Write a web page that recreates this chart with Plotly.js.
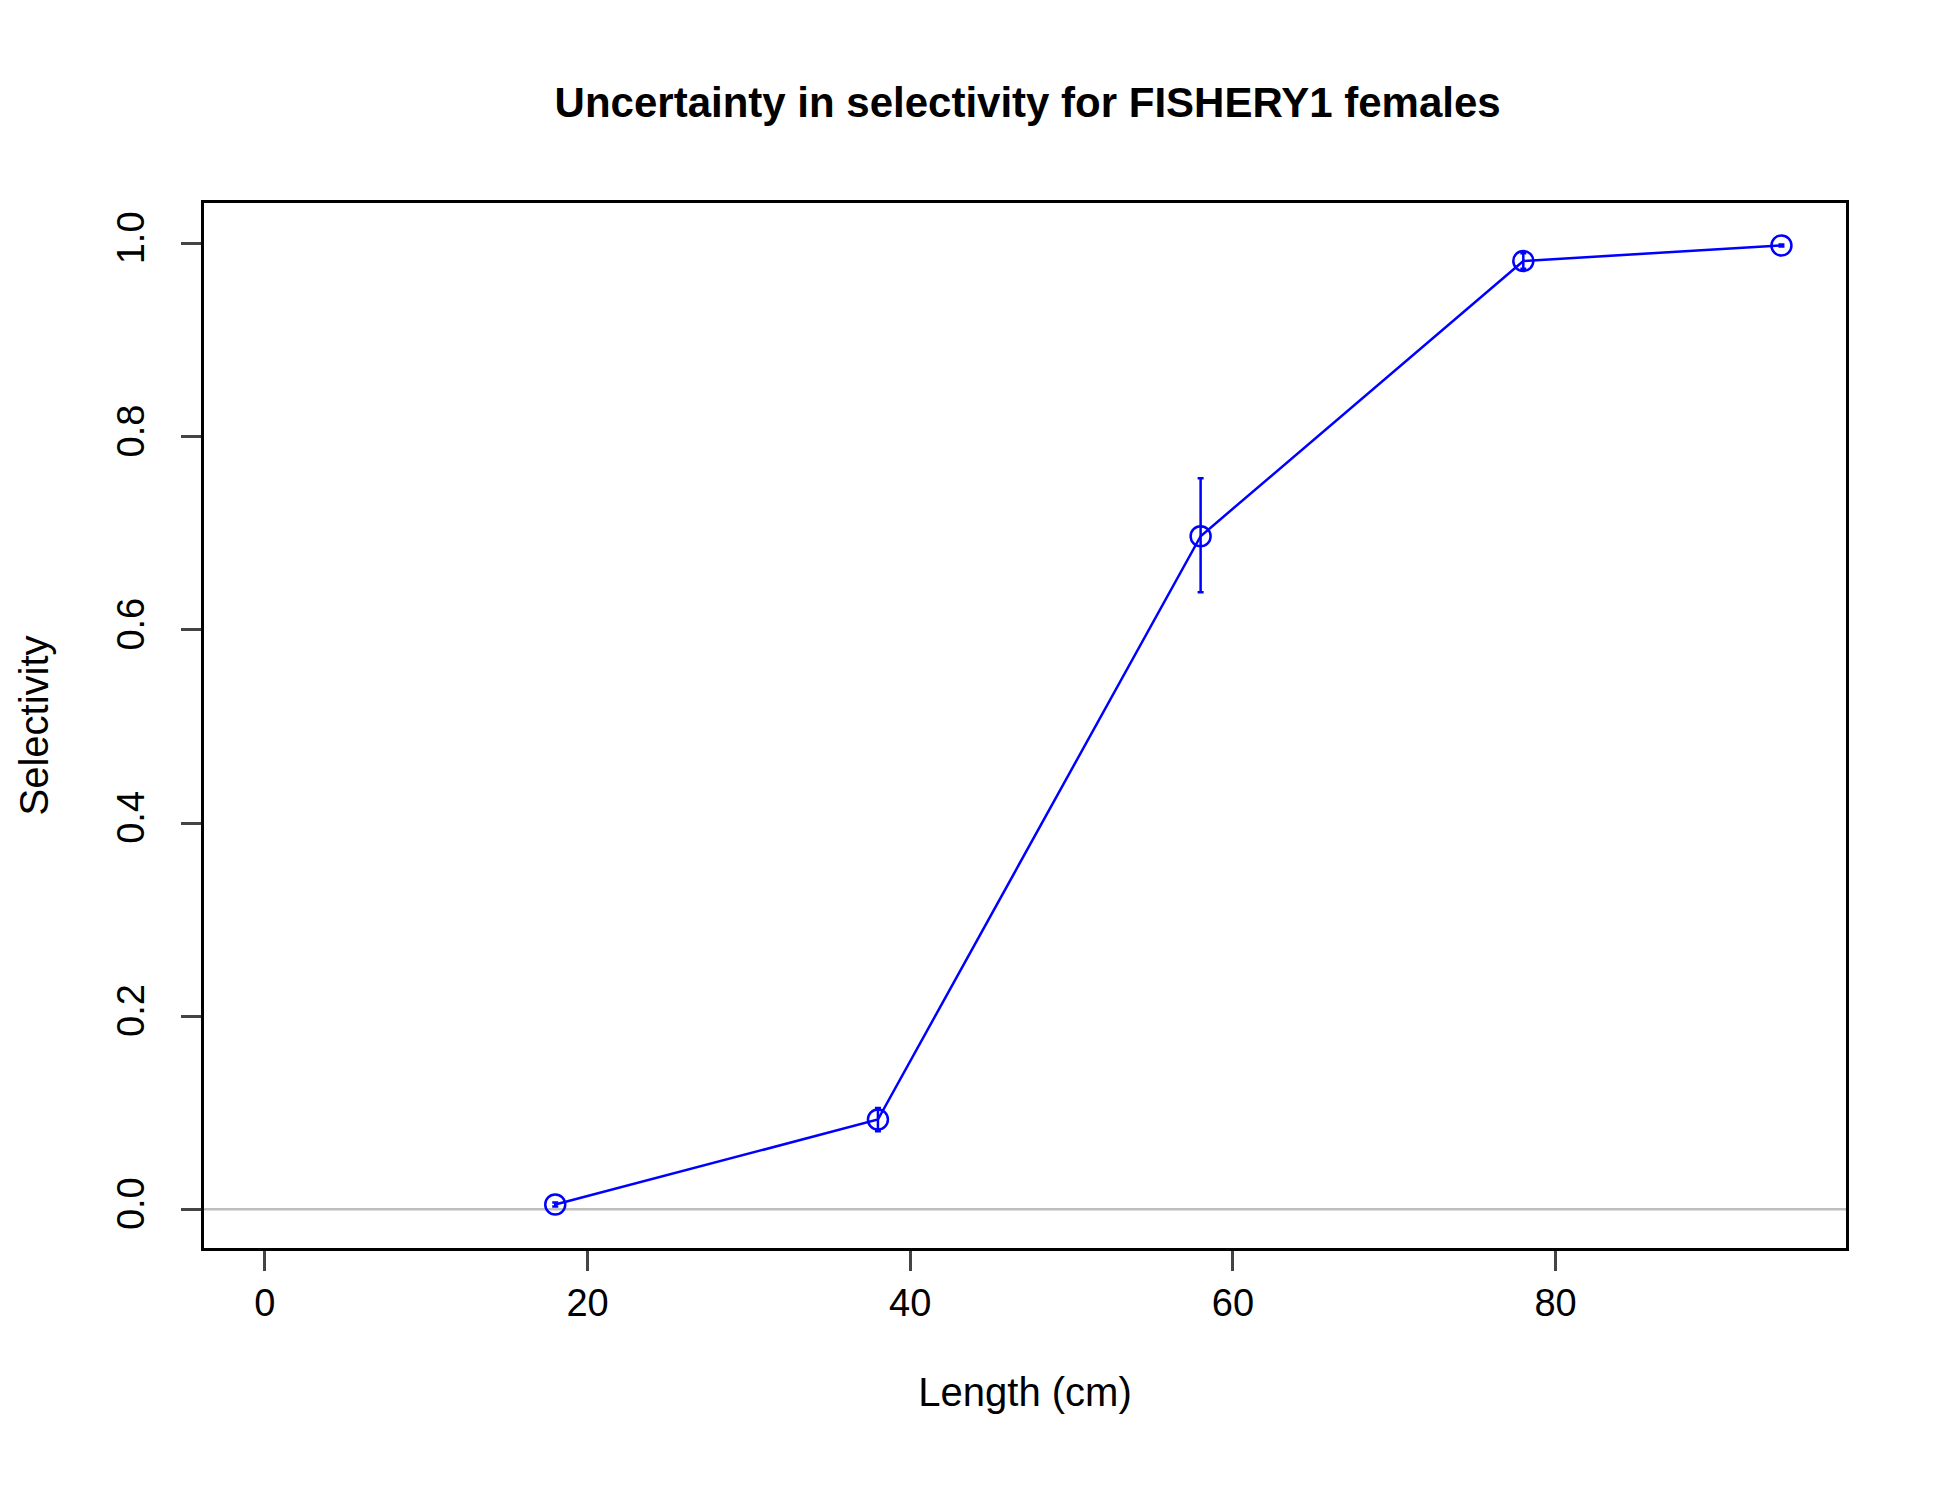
<!DOCTYPE html>
<html>
<head>
<script src="https://cdn.plot.ly/plotly-3.0.1.min.js"></script>
<style>body{margin:0;background:#fff}</style>
</head>
<body>
<div id="chart" style="width:1950px;height:1500px"></div>
<script>
const lengths = [18, 38, 58, 78, 94];
const selectivity = [0.005, 0.093, 0.697, 0.982, 0.998];
const errUpper = [0.002, 0.012, 0.060, 0.008, 0.001];
const errLower = [0.002, 0.012, 0.058, 0.008, 0.001];
const xTicks = [0, 20, 40, 60, 80];
const yTicks = [0, 0.2, 0.4, 0.6, 0.8, 1.0];

const font = 'Liberation Sans, Arial, sans-serif';

const data = [{
  type: 'scatter',
  mode: 'lines+markers',
  x: lengths,
  y: selectivity,
  line: { color: 'blue', width: 2.5 },
  marker: { symbol: 'circle-open', size: 20, color: 'blue', line: { width: 2.5 } },
  error_y: { type: 'data', symmetric: false, array: errUpper, arrayminus: errLower,
             color: 'blue', thickness: 2.5, width: 3 },
  showlegend: false
}];

const layout = {
  width: 1950, height: 1500,
  margin: { l: 204, r: 104, t: 203, b: 252 },
  paper_bgcolor: '#fff', plot_bgcolor: '#fff',
  font: { family: font, color: '#000', size: 38 },
  title: { text: '<b>Uncertainty in selectivity for FISHERY1 females</b>', x: 0.527, xanchor: 'center',
           y: 0.932, yanchor: 'middle', font: { size: 42 } },
  xaxis: {
    range: [-3.77, 98], tickvals: xTicks, ticks: 'outside', ticklen: 20, tickwidth: 2.5,
    showline: true, linewidth: 2.5, linecolor: '#000', mirror: true, showgrid: false, zeroline: false,
    tickfont: { size: 38 }, title: { text: 'Length (cm)', font: { size: 40 }, standoff: 55 }
  },
  yaxis: {
    range: [-0.04, 1.042], tickvals: yTicks, ticktext: ['0.0','0.2','0.4','0.6','0.8','1.0'],
    ticks: 'outside', ticklen: 20, tickwidth: 2.5, tickangle: -90, ticklabelstandoff: 22,
    showline: true, linewidth: 2.5, linecolor: '#000', mirror: true, showgrid: false, zeroline: false,
    tickfont: { size: 38 }, title: { text: 'Selectivity', font: { size: 40 }, standoff: 50 }
  },
  shapes: [{ type: 'line', xref: 'paper', x0: 0, x1: 1, yref: 'y', y0: 0, y1: 0,
             line: { color: '#bebebe', width: 2.5 }, layer: 'below' }]
};

Plotly.newPlot('chart', data, layout, { displayModeBar: false });
</script>
</body>
</html>
